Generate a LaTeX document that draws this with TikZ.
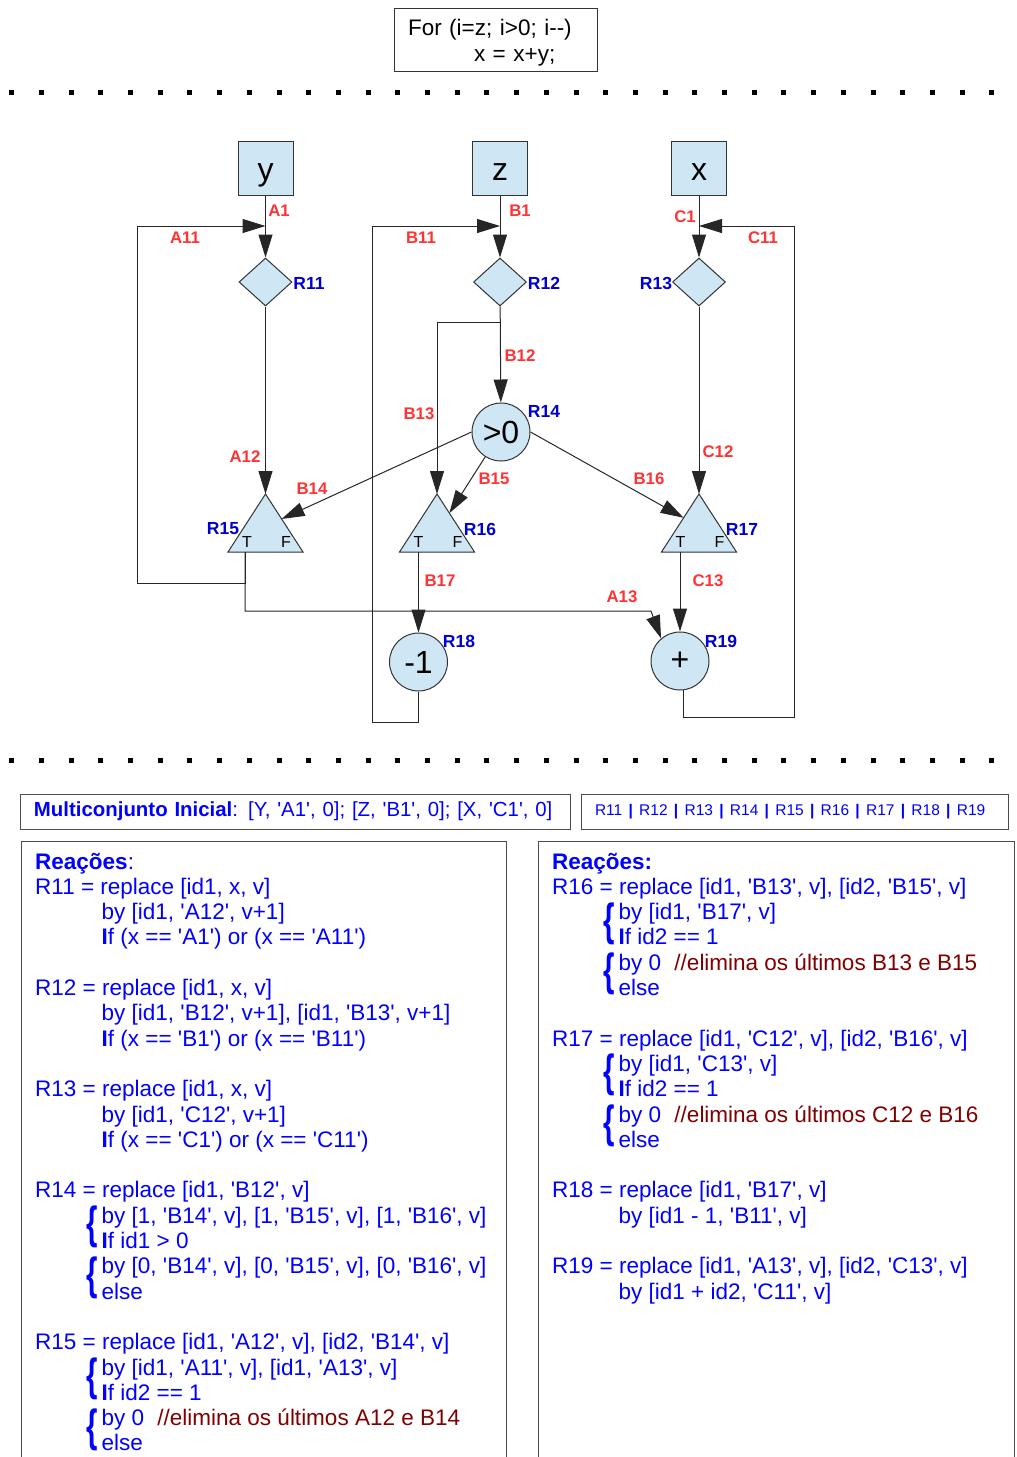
\documentclass[tikz,border=0pt]{standalone}
\usepackage{fontspec}
\usetikzlibrary{arrows.meta,shapes.geometric,calc}
\newfontfamily\lib{Liberation Sans}
\definecolor{pale}{HTML}{CFE7F5}
\definecolor{lblred}{HTML}{FF3333}
\definecolor{lblblue}{HTML}{0000CC}
\definecolor{txtblue}{HTML}{0000FF}
\definecolor{cmtred}{HTML}{800000}
\newcommand{\tabin}{\hspace*{66.5pt}}
\newcommand{\chav}{\llap{\raisebox{-15.4pt}[0pt][0pt]{\scalebox{1.3}[2]{\bfseries\{}}\hspace{4pt}}}
\newcommand{\bI}{\textbf{I}}
\newcommand{\sep}{\hspace{6.3pt}{\bfseries|}\hspace{6.3pt}}
\tikzset{
  var/.style={draw=black!80, fill=pale, line width=1pt, minimum width=55pt, minimum height=54pt,
    inner sep=0pt, text height=29pt, text depth=4pt, font=\lib\fontsize{32}{36}\selectfont},
  cond/.style={diamond, draw=black!80, fill=pale, line width=1pt, minimum width=53pt,
    minimum height=48pt, aspect=1.1, inner sep=0pt},
  op/.style={circle, draw=black!80, fill=pale, line width=1pt, minimum size=58pt, inner sep=0pt,
    font=\lib\fontsize{32}{36}\selectfont},
  tri/.style={draw=black!80, fill=pale, line width=1pt},
  redlbl/.style={text=lblred, inner sep=0pt, font=\lib\bfseries\fontsize{16.8}{19}\selectfont},
  bluelbl/.style={text=lblblue, inner sep=0pt, font=\lib\bfseries\fontsize{17.5}{20}\selectfont},
  tf/.style={inner sep=0pt, font=\lib\fontsize{16}{18}\selectfont},
  arr/.style={draw=black!85, line width=1pt, -{Triangle[length=23pt,width=14pt]}},
  panel/.style={draw=black!70, line width=1pt},
  reac/.style={anchor=base west, inner sep=0pt, text=txtblue, font=\lib\fontsize{22.5}{25.3}\selectfont},
}
\begin{document}
\begin{tikzpicture}[x=1pt,y=-1pt]
\useasboundingbox (0,0) rectangle (1017,1457);

% programa
\node[draw=black!80, line width=1pt, text width=175pt, inner xsep=14pt, inner ysep=0pt,
  minimum height=63pt, align=left, font=\lib\fontsize{22.5}{26}\selectfont]
  (code) at (495.5,39.5) {\rule{0pt}{23pt}For (i=z; i>0; i--)\\\hspace*{66pt}x = x+y;};

% separadores
\foreach \yy in {92,760}
  \foreach \i in {0,...,33}
    \fill (9.2+29.7*\i,\yy-2.5) rectangle ++(5,5);

% variaveis
\node[var] (vy) at (265.5,168) {y};
\node[var] (vz) at (500,168) {z};
\node[var] (vx) at (699,168) {x};

% reacoes
\node[cond] (r11) at (265.5,282) {};
\node[cond] (r12) at (500,282) {};
\node[cond] (r13) at (699,282) {};
\node[op] (r14) at (501,432) {>0};
\node[op] (r18) at (418.5,662) {-1};
\node[op] (r19) at (680,661) {+};

\foreach \n/\cx/\tx in {r15/265.5/245, r16/437/418.5, r17/699/680} {
  \coordinate (\n) at (\cx,494);
  \coordinate (\n-l) at (\cx-37.5,552);
  \coordinate (\n-r) at (\cx+37.5,552);
  \coordinate (\n-o) at (\tx,552);
  \filldraw[tri] (\n) -- (\n-r) -- (\n-l) -- cycle;
  \node[tf] (\n-T) at (\cx-18.5,542) {T};
  \node[tf] (\n-F) at (\cx+20.5,542) {F};
}

\coordinate (ja) at (265.5,226);
\coordinate (jb) at (500,226);
\coordinate (jc) at (699,226);
\coordinate (jd) at (500,322);

% ligacoes
\draw[arr] (vy) -- (r11);
\draw[arr] (r15-o) |- (137,583) |- (ja);
\draw[arr] (r15-o) |- (651,611) -- (r19.130);
\draw[arr] (r11) -- (r15);
\draw[arr] (vz) -- (r12);
\draw[arr] (r18.south) |- (372,722) |- (jb);
\draw[arr] (r12) -- (r14);
\draw[arr] (jd) -| (r16);
\draw[arr] (r14.west) -- ($(r15)!0.43!(r15-r)$);
\draw[arr] (r14) -- ($(r16)!0.33!(r16-r)$);
\draw[arr] (r14.east) -- ($(r17)!0.41!(r17-l)$);
\draw[arr] (r16-o) -- (r18);
\draw[arr] (vx) -- (r13);
\draw[arr] (r19.-84) |- (794,717) |- (jc);
\draw[arr] (r13) -- (r17);
\draw[arr] (r17-o) -- (r19);

% rotulos
\node[redlbl] (A1) at (279,211) {A1};
\node[redlbl] (A11) at (185,238) {A11};
\node[redlbl] (A12) at (245,457) {A12};
\node[redlbl] (A13) at (622,597) {A13};
\node[redlbl] (B1) at (520,211) {B1};
\node[redlbl] (B11) at (421,238) {B11};
\node[redlbl] (B12) at (520,356) {B12};
\node[redlbl] (B13) at (419,414) {B13};
\node[redlbl] (B14) at (312,489) {B14};
\node[redlbl] (B15) at (494,479) {B15};
\node[redlbl] (B16) at (649,479) {B16};
\node[redlbl] (B17) at (440,581) {B17};
\node[redlbl] (C1) at (685,217) {C1};
\node[redlbl] (C11) at (763,238) {C11};
\node[redlbl] (C12) at (718,452) {C12};
\node[redlbl] (C13) at (708,581) {C13};

\node[bluelbl] (R11) at (309,283) {R11};
\node[bluelbl] (R12) at (544,283) {R12};
\node[bluelbl] (R13) at (656,283) {R13};
\node[bluelbl] (R14) at (544,411) {R14};
\node[bluelbl] (R15) at (223,529) {R15};
\node[bluelbl] (R16) at (480,529) {R16};
\node[bluelbl] (R17) at (742,529) {R17};
\node[bluelbl] (R18) at (459,641) {R18};
\node[bluelbl] (R19) at (721,641) {R19};

% multiconjunto
\node[panel, text=txtblue, minimum width=550pt, minimum height=35pt, text width=522pt, inner xsep=14pt,
  inner ysep=0pt, align=left, font=\lib\fontsize{20.4}{24}\selectfont]
  (inicial) at (295,811.5) {\mbox{\textbf{Multiconjunto Inicial}: [Y, 'A1', 0]; [Z, 'B1', 0]; [X, 'C1', 0]}};
\node[panel, text=txtblue, minimum width=427pt, minimum height=35pt, text width=399pt, inner xsep=14pt,
  inner ysep=0pt, align=left, font=\lib\fontsize{15.5}{18}\selectfont]
  (lista) at (794.5,811.5) {\mbox{R11\sep R12\sep R13\sep R14\sep R15\sep R16\sep R17\sep R18\sep R19}};

% quadros das reacoes
\draw[panel] (21,1470) -- (21,841) -- (506,841) -- (506,1470);
\draw[panel] (538,1470) -- (538,841) -- (1014,841) -- (1014,1470);

\node[reac] (reacA) at (35,869) {\begin{tabular}[t]{@{}l@{}}
\textbf{Reações}:\\
R11 = replace [id1, x, v]\\
\tabin by [id1, 'A12', v+1]\\
\tabin \bI f (x == 'A1') or (x == 'A11')\\[25.3pt]
R12 = replace [id1, x, v]\\
\tabin by [id1, 'B12', v+1], [id1, 'B13', v+1]\\
\tabin \bI f (x == 'B1') or (x == 'B11')\\[25.3pt]
R13 = replace [id1, x, v]\\
\tabin by [id1, 'C12', v+1]\\
\tabin \bI f (x == 'C1') or (x == 'C11')\\[25.3pt]
R14 = replace [id1, 'B12', v]\\
\tabin\chav by [1, 'B14', v], [1, 'B15', v], [1, 'B16', v]\\
\tabin \bI f id1 > 0\\
\tabin\chav by [0, 'B14', v], [0, 'B15', v], [0, 'B16', v]\\
\tabin else\\[25.3pt]
R15 = replace [id1, 'A12', v], [id2, 'B14', v]\\
\tabin\chav by [id1, 'A11', v], [id1, 'A13', v]\\
\tabin \bI f id2 == 1\\
\tabin\chav by 0\hspace{7pt} \textcolor{cmtred}{//elimina os últimos A12 e B14}\\
\tabin else
\end{tabular}};

\node[reac] (reacB) at (552,869) {\begin{tabular}[t]{@{}l@{}}
\textbf{Reações:}\\
R16 = replace [id1, 'B13', v], [id2, 'B15', v]\\
\tabin\chav by [id1, 'B17', v]\\
\tabin \bI f id2 == 1\\
\tabin\chav by 0\hspace{7pt} \textcolor{cmtred}{//elimina os últimos B13 e B15}\\
\tabin else\\[25.3pt]
R17 = replace [id1, 'C12', v], [id2, 'B16', v]\\
\tabin\chav by [id1, 'C13', v]\\
\tabin \bI f id2 == 1\\
\tabin\chav by 0\hspace{7pt} \textcolor{cmtred}{//elimina os últimos C12 e B16}\\
\tabin else\\[25.3pt]
R18 = replace [id1, 'B17', v]\\
\tabin by [id1 - 1, 'B11', v]\\[25.3pt]
R19 = replace [id1, 'A13', v], [id2, 'C13', v]\\
\tabin by [id1 + id2, 'C11', v]
\end{tabular}};
\end{tikzpicture}
\end{document}
